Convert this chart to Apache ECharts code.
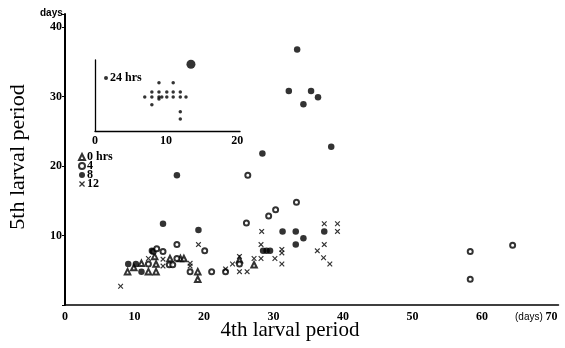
<!DOCTYPE html>
<html><head><meta charset="utf-8">
<script src="https://cdn.jsdelivr.net/npm/echarts@6/dist/echarts.min.js"></script>
<style>html,body{margin:0;padding:0;background:#fff}#c{width:565px;height:348px}</style>
</head><body><div id="c"></div>
<script>
// Main plot: [4th larval period (days), 5th larval period (days)]
var hrs0 = [[9.0,4.8],[9.9,5.4],[11.0,6.0],[12.0,4.8],[13.1,4.8],[13.1,5.9],[12.9,7.0],[15.1,6.7],[16.6,6.7],[17.1,6.7],[19.1,4.8],[19.1,3.7],[25.1,6.5],[27.2,5.8]];
var hrs4 = [[12.0,5.9],[12.7,7.7],[13.2,8.1],[14.1,7.7],[16.1,8.7],[16.1,6.7],[15.0,5.8],[15.5,5.8],[20.1,7.8],[18.0,4.8],[21.1,4.8],[23.1,4.8],[25.1,5.9],[26.1,11.8],[26.3,18.7],[29.3,12.8],[30.3,13.7],[33.3,14.8],[58.3,7.7],[58.3,3.7],[64.4,8.6]];
var hrs8 = [[9.1,5.9],[10.2,5.9],[11.0,4.8],[12.5,7.8],[14.1,11.7],[19.2,10.8],[16.1,18.7],[28.4,21.8],[38.3,22.8],[33.4,36.8],[32.2,30.8],[35.4,30.8],[36.4,29.9],[34.3,28.9],[31.3,10.6],[33.2,10.6],[34.3,9.6],[33.2,8.7],[37.3,10.6],[28.5,7.8],[29.0,7.8],[29.5,7.8]];
var hrs12 = [[8.0,2.7],[12.0,6.7],[14.1,6.6],[14.1,5.6],[18.0,6.0],[18.0,5.6],[19.2,8.7],[23.1,5.2],[24.1,5.9],[25.1,7.0],[25.1,4.8],[26.2,4.8],[27.2,6.7],[28.2,6.7],[28.2,8.7],[28.3,10.6],[30.2,6.7],[31.2,5.9],[31.2,8.0],[31.2,7.5],[36.3,7.8],[37.2,6.8],[38.1,5.9],[37.3,8.7],[37.3,11.7],[39.2,11.7],[39.2,10.6]];
// Inset: 24 hrs
var hrs24 = [[9.0,6.8],[11.0,6.8],[8.0,5.5],[9.0,5.5],[10.1,5.5],[11.0,5.5],[12.0,5.5],[7.0,4.8],[8.0,4.8],[9.0,4.8],[9.4,4.8],[10.1,4.8],[11.0,4.8],[12.0,4.8],[12.8,4.8],[9.0,4.5],[8.0,3.7],[12.0,2.7],[12.0,1.7]];
var hrs24Large = [[13.5,9.4]];
var mainXTicks = [0,10,20,30,40,50,60,70];
var mainYTicks = [10,20,30,40];
var insetXTicks = [0,10,20];

var serif = '"Liberation Serif","DejaVu Serif",serif';
var crossPath = 'path://M0,1.5L1.5,0L5,3.5L8.5,0L10,1.5L6.5,5L10,8.5L8.5,10L5,6.5L1.5,10L0,8.5L3.5,5Z';
var chart = echarts.init(document.getElementById('c'), null, {renderer:'canvas'});
chart.setOption({
  animation:false,
  backgroundColor:'#fff',
  grid:[
    {left:65, right:6.5, top:14, bottom:43},
    {left:95, top:60, width:145, height:71}
  ],
  xAxis:[
    {type:'value', gridIndex:0, min:0, max:71, interval:10, splitLine:{show:false},
     axisLine:{lineStyle:{color:'#000', width:1.5}}, axisTick:{show:false},
     axisLabel:{color:'#000', fontFamily:serif, fontWeight:'bold', fontSize:12, margin:6,
       formatter:function(v){return mainXTicks.indexOf(v)>=0 ? String(v) : '';}}},
    {type:'value', gridIndex:1, min:0, max:20.4, interval:10, splitLine:{show:false},
     axisLine:{lineStyle:{color:'#000', width:1.3}}, axisTick:{show:false},
     axisLabel:{color:'#000', fontFamily:serif, fontWeight:'bold', fontSize:12, margin:4,
       formatter:function(v){return insetXTicks.indexOf(v)>=0 ? String(v) : '';}}}
  ],
  yAxis:[
    {type:'value', gridIndex:0, min:0, max:41.9, interval:10, splitLine:{show:false},
     axisLine:{lineStyle:{color:'#000', width:2}}, axisTick:{show:true, length:3, lineStyle:{color:'#000'}},
     axisLabel:{color:'#000', fontFamily:serif, fontWeight:'bold', fontSize:12, margin:3,
       formatter:function(v){return mainYTicks.indexOf(v)>=0 ? String(v) : '';}}},
    {type:'value', gridIndex:1, min:0, max:10, splitLine:{show:false},
     axisLine:{lineStyle:{color:'#000', width:1.3}}, axisTick:{show:false}, axisLabel:{show:false}}
  ],
  legend:[
    {data:['0 hrs','4','8','12'], orient:'vertical', left:78, top:151, padding:0,
     itemWidth:6, itemHeight:6, itemGap:-3,
     textStyle:{color:'#000', fontFamily:serif, fontWeight:'bold', fontSize:12, lineHeight:12, padding:[0,0,0,-3]}},
    {data:['24 hrs'], left:104, top:72, padding:0, itemWidth:4, itemHeight:4,
     textStyle:{color:'#000', fontFamily:serif, fontWeight:'bold', fontSize:12, padding:[0,0,0,-3]}}
  ],
  graphic:[
    {type:'text', left:40, top:8, style:{text:'days', fill:'#000', font:'bold 10px "Liberation Sans",sans-serif'}},
    {type:'text', left:515, top:312, style:{text:'(days)', fill:'#000', font:'10px "Liberation Sans",sans-serif'}},
    {type:'text', x:290, y:330, style:{text:'4th larval period', fill:'#000', font:'21px "Liberation Serif",serif', align:'center', verticalAlign:'middle'}},
    {type:'text', x:18, y:157, rotation:Math.PI/2, style:{text:'5th larval period', fill:'#000', font:'22px "Liberation Serif",serif', align:'center', verticalAlign:'middle'}}
  ],
  series:[
    {name:'0 hrs', type:'scatter', xAxisIndex:0, yAxisIndex:0, data:hrs0, symbol:'emptyTriangle', symbolSize:5.5,
     itemStyle:{color:'#000', borderColor:'#000', borderWidth:1.2}},
    {name:'4', type:'scatter', xAxisIndex:0, yAxisIndex:0, data:hrs4, symbol:'emptyCircle', symbolSize:5,
     itemStyle:{color:'#000', borderColor:'#000', borderWidth:1.3}},
    {name:'8', type:'scatter', xAxisIndex:0, yAxisIndex:0, data:hrs8, symbol:'circle', symbolSize:6.5,
     itemStyle:{color:'#000'}},
    {name:'12', type:'scatter', xAxisIndex:0, yAxisIndex:0, data:hrs12, symbol:crossPath, symbolSize:5.5,
     itemStyle:{color:'#000'}},
    {name:'24 hrs', type:'scatter', xAxisIndex:1, yAxisIndex:1, data:hrs24, symbol:'circle', symbolSize:3.5,
     itemStyle:{color:'#000'}},
    {name:'24 hrs', type:'scatter', xAxisIndex:1, yAxisIndex:1, data:hrs24Large, symbol:'circle', symbolSize:9,
     itemStyle:{color:'#000'}}
  ]
});
</script></body></html>
